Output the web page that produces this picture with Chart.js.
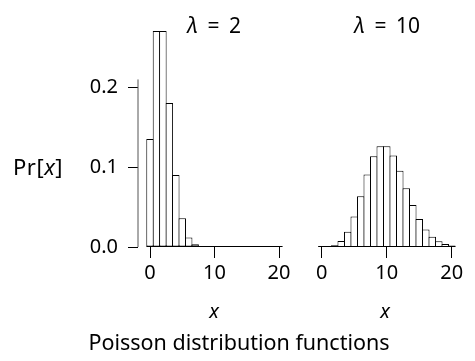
<!DOCTYPE html>
<html>
<head>
<meta charset="utf-8">
<script src="https://cdn.jsdelivr.net/npm/chart.js@4.4.0/dist/chart.umd.min.js"></script>
<style>
body { margin: 0; background: #fff; }
#wrap { position: relative; width: 475px; height: 361px; overflow: hidden; font-family: 'Noto Sans', sans-serif; color: #000; }
canvas { position: absolute; top: 0; }
.lbl { position: absolute; font-size: 20px; line-height: 1; white-space: nowrap; transform: translate(-50%, -50%); }
.ttl { font-size: 21px; word-spacing: 4px; }
</style>
</head>
<body>
<div id="wrap">
  <canvas id="left" width="300" height="361" style="left:0px"></canvas>
  <canvas id="right" width="175" height="361" style="left:300px"></canvas>
  <div class="lbl ttl" id="t1" style="left:214px; top:25px"></div>
  <div class="lbl ttl" id="t2" style="left:387px; top:25px"></div>
  <div class="lbl" style="left:38px; top:166px; font-size:22px; letter-spacing:0.5px">Pr[<i>x</i>]</div>
  <div class="lbl" style="left:239px; top:342px; font-size:21.5px">Poisson distribution functions</div>
</div>
<script>
// values
const xs = [0, 1, 2, 3, 4, 5, 6, 7, 8, 9, 10, 11, 12, 13, 14, 15, 16, 17, 18, 19, 20];
const prLambda2 = [0.1353, 0.2707, 0.2707, 0.1804, 0.0902, 0.0361, 0.0120, 0.0034, 0.0009, 0.0002,
                   0.00004, 0.00001, 0, 0, 0, 0, 0, 0, 0, 0, 0];
const prLambda10 = [0.00005, 0.0005, 0.0023, 0.0076, 0.0189, 0.0378, 0.0631, 0.0901, 0.1126, 0.1251,
                    0.1251, 0.1137, 0.0948, 0.0729, 0.0521, 0.0347, 0.0217, 0.0128, 0.0071, 0.0037, 0.0019];
const panelTitles = ['λ = 2', 'λ = 10'];
const xTicks = [0, 10, 20];
const yTicks = [0, 0.1, 0.2];

document.getElementById('t1').innerHTML = panelTitles[0].replace('λ', '<i>λ</i>');
document.getElementById('t2').innerHTML = panelTitles[1].replace('λ', '<i>λ</i>');

Chart.defaults.font.family = "'Noto Sans', sans-serif";
Chart.defaults.font.size = 20;
Chart.defaults.color = '#000';

// R style axes: bar outline baseline and a y axis line that stops near the top tick
const rAxes = {
  id: 'rAxes',
  afterDatasetsDraw(chart, args, opts) {
    const ctx = chart.ctx;
    const x = chart.scales.x, y = chart.scales.y;
    ctx.save();
    ctx.strokeStyle = '#000';
    ctx.lineWidth = 1;
    const y0 = Math.round(y.getPixelForValue(0)) - 0.5;
    ctx.beginPath();
    ctx.moveTo(x.getPixelForValue(xs[0] - 0.55), y0);
    ctx.lineTo(x.getPixelForValue(xs[xs.length - 1] + 0.55), y0);
    ctx.stroke();
    if (opts.yLine) {
      const lx = chart.chartArea.left;
      ctx.strokeStyle = '#555';
      ctx.beginPath();
      ctx.moveTo(lx, y.getPixelForValue(0));
      ctx.lineTo(lx, y.getPixelForValue(0.21));
      ctx.stroke();
    }
    ctx.restore();
  }
};

function makePanel(id, values, xmin, xmax, showY, pad) {
  return new Chart(document.getElementById(id), {
    type: 'bar',
    data: {
      datasets: [{
        data: xs.map((v, i) => ({x: v, y: values[i]})),
        backgroundColor: '#fff',
        borderColor: '#000',
        borderWidth: 1,
        borderSkipped: false,
        barPercentage: 1.155,
        categoryPercentage: 1
      }]
    },
    options: {
      responsive: false,
      animation: false,
      layout: {padding: pad},
      plugins: {legend: {display: false}, tooltip: {enabled: false}, rAxes: {yLine: showY}},
      scales: {
        x: {
          type: 'linear',
          offset: false,
          min: xmin,
          max: xmax,
          afterBuildTicks: s => { s.ticks = xTicks.map(v => ({value: v})); },
          afterFit: s => { s.height = 114; },
          ticks: {padding: 3, maxRotation: 0, callback: v => v},
          grid: {display: true, drawOnChartArea: false, tickLength: 11, color: '#000', offset: false},
          border: {display: false},
          title: {display: true, text: 'x', font: {style: 'italic', size: 20}, padding: {top: 0, bottom: 37}}
        },
        y: {
          display: showY,
          min: 0,
          max: 0.282,
          afterBuildTicks: s => { s.ticks = yTicks.map(v => ({value: v})); },
          afterFit: s => { s.width = showY ? 138 : 0; },
          ticks: {padding: 10, callback: v => v.toFixed(1)},
          grid: {display: true, drawOnChartArea: false, tickLength: 10, color: '#000'},
          border: {display: false}
        }
      }
    },
    plugins: [rAxes]
  });
}

makePanel('left', prLambda2, -1.86, 21.7, true, {top: 20, right: 10, bottom: 0, left: 0});
makePanel('right', prLambda10, -3.34, 22.8, false, {top: 20, right: 5, bottom: 0, left: 0});
</script>
</body>
</html>
